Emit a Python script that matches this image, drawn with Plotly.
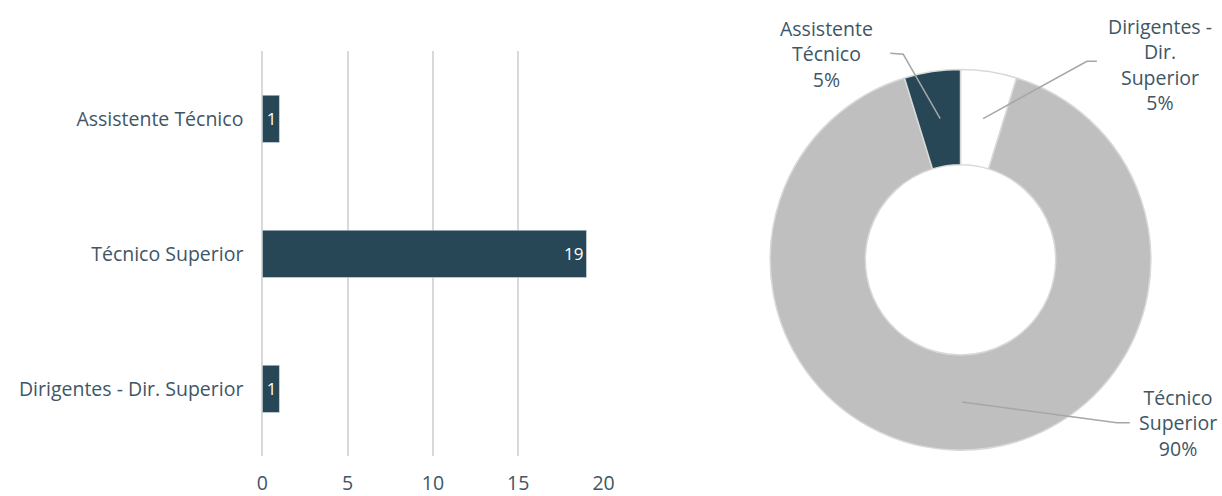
import plotly.graph_objects as go

# Data
categories = ["Assistente Técnico", "Técnico Superior", "Dirigentes - Dir. Superior"]
counts = [1, 19, 1]
x_ticks = [0, 5, 10, 15, 20]

pie_labels = ["Dirigentes - Dir. Superior", "Técnico Superior", "Assistente Técnico"]
pie_values = [1, 19, 1]
pie_label_text = ["Dirigentes -<br>Dir.<br>Superior<br>5%", "Técnico<br>Superior<br>90%", "Assistente<br>Técnico<br>5%"]

W, H = 1222, 496
FONT = "Open Sans"
FS = 19.5
TXT = "#3e5666"
DARK = "#274756"
GREY = "#bfbfbf"


def px(x, y):
    # small horizontal correction for the rendering scale
    return (x - 4) / (0.988 * W), 1 - y / H


fig = go.Figure()

fig.add_trace(go.Bar(
    y=categories, x=counts, orientation="h",
    marker=dict(color=DARK),
    width=0.35,
    text=[str(v) for v in counts],
    textposition="inside", insidetextanchor="end",
    textfont=dict(color="white", size=17, family=FONT),
    xaxis="x", yaxis="y", showlegend=False,
    cliponaxis=False,
))

pie_colors = ["#ffffff", GREY, DARK]
fig.add_trace(go.Pie(
    labels=pie_labels, values=pie_values, hole=0.5,
    sort=False, direction="clockwise", rotation=0,
    marker=dict(colors=pie_colors, line=dict(color="#d9d9d9", width=1.5)),
    textinfo="none", showlegend=False,
    domain=dict(x=[775 / W, 1161 / W], y=[1 - 458 / H, 1 - 68 / H]),
))

x0, y0 = 260 / W, 1 - 462 / H
x1, y1 = 606 / W, 1 - 52 / H
fig.update_layout(
    width=W, height=H,
    margin=dict(l=0, r=0, t=0, b=0),
    paper_bgcolor="white", plot_bgcolor="white",
    font=dict(family=FONT, color=TXT, size=FS),
    xaxis=dict(domain=[x0, x1], range=[0, 20], tickvals=x_ticks,
               showgrid=True, gridcolor="#d9d9d9", gridwidth=1.5,
               zeroline=True, zerolinecolor="#d9d9d9", zerolinewidth=1.5,
               showline=False, ticks="", ticklabelstandoff=13,
               tickfont=dict(size=FS, color=TXT, family=FONT), fixedrange=True),
    yaxis=dict(domain=[y0, y1], autorange="reversed", showgrid=False,
               zeroline=False, showline=False, ticks="", ticklabelstandoff=18,
               tickfont=dict(size=FS, color=TXT, family=FONT), fixedrange=True),
)

# Pie labels
label_pos = [(1160, 65), (1178, 428), (826, 55)]
for t, (lx, ly) in zip(pie_label_text, label_pos):
    ax, ay = px(lx, ly)
    fig.add_annotation(x=ax, y=ay, xref="paper", yref="paper", text=t,
                       showarrow=False, xanchor="center", yanchor="middle",
                       align="center", font=dict(size=FS, color=TXT, family=FONT))

# Leader lines
leaders = [
    [(983, 120), (1087, 62), (1097, 62)],
    [(962, 407), (1117, 428), (1130, 428)],
    [(940, 120), (903, 55), (890, 54)],
]
for pts in leaders:
    path = ""
    for i, (lx, ly) in enumerate(pts):
        a, b = px(lx, ly)
        path += ("M" if i == 0 else " L") + f" {a} {b}"
    fig.add_shape(type="path", xref="paper", yref="paper", path=path,
                  line=dict(color="#a6a6a6", width=1.5))

fig.write_html("out.html", config={"displayModeBar": False},
               post_script="document.body.style.margin='0';")
